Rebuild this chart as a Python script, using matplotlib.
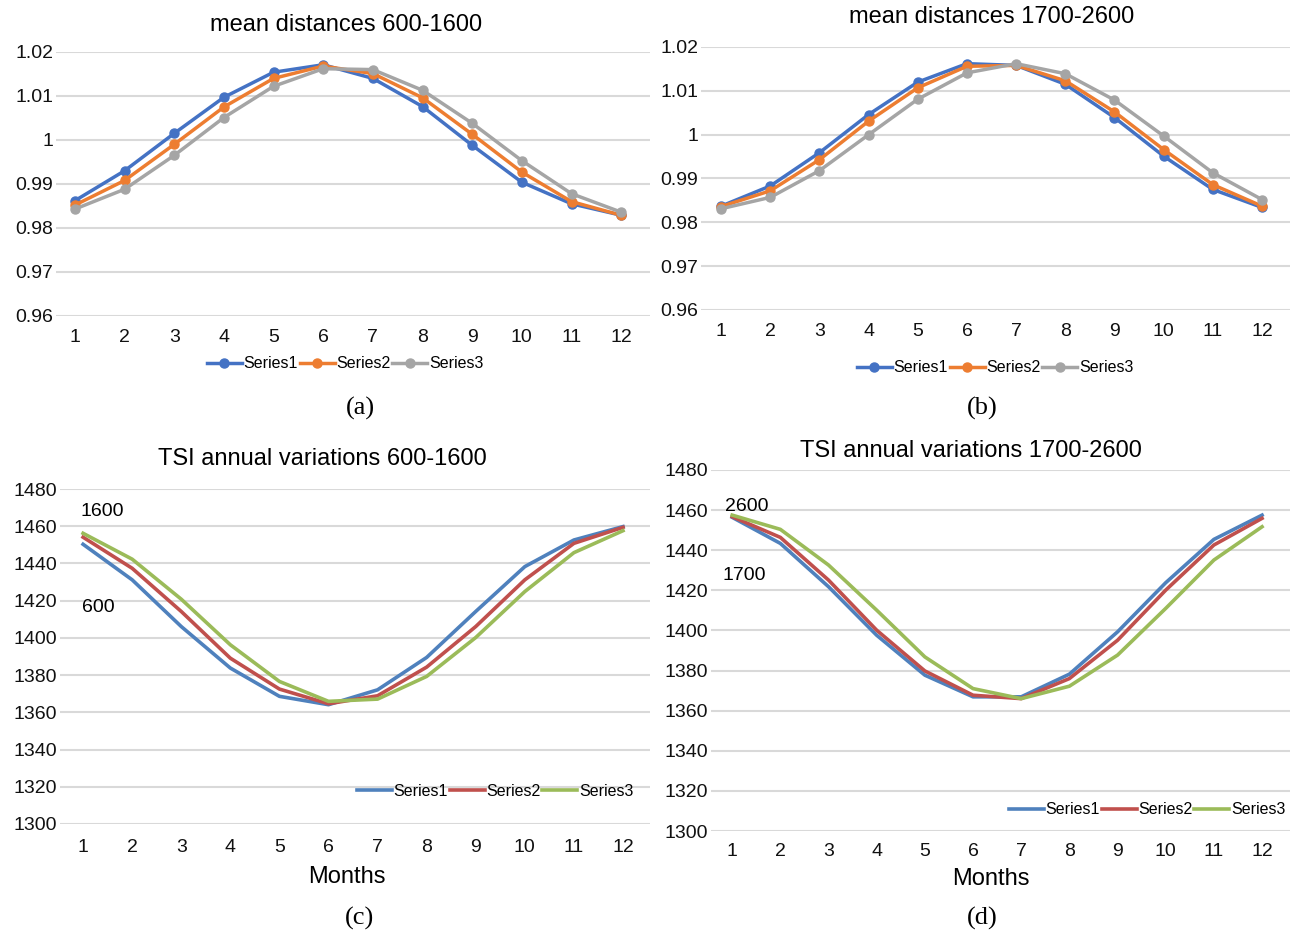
import numpy as np
import matplotlib.pyplot as plt

plt.rcParams['font.family'] = ['Liberation Sans', 'DejaVu Sans']

W, H = 1290, 932

months = list(range(1, 13))
series_names = ['Series1', 'Series2', 'Series3']

# mean distances 600-1600
dist_a_s1 = [0.9862, 0.9930, 1.0015, 1.0097, 1.0154, 1.0171, 1.0140, 1.0076, 0.9988, 0.9904, 0.9855, 0.9829]
dist_a_s2 = [0.9852, 0.9908, 0.9990, 1.0075, 1.0140, 1.0168, 1.0151, 1.0096, 1.0013, 0.9927, 0.9860, 0.9829]
dist_a_s3 = [0.9843, 0.9888, 0.9965, 1.0051, 1.0122, 1.0162, 1.0160, 1.0113, 1.0038, 0.9953, 0.9878, 0.9836]

# mean distances 1700-2600
dist_b_s1 = [0.9837, 0.9883, 0.9959, 1.0046, 1.0120, 1.0162, 1.0158, 1.0115, 1.0039, 0.9951, 0.9875, 0.9834]
dist_b_s2 = [0.9836, 0.9872, 0.9943, 1.0031, 1.0107, 1.0156, 1.0158, 1.0123, 1.0052, 0.9966, 0.9886, 0.9837]
dist_b_s3 = [0.9831, 0.9857, 0.9918, 1.0000, 1.0081, 1.0141, 1.0162, 1.0139, 1.0079, 0.9997, 0.9913, 0.9852]

# TSI 600-1600
tsi_c_s1 = [1450.3, 1431.2, 1406.1, 1383.8, 1368.6, 1364.1, 1372.1, 1389.5, 1414.2, 1438.3, 1452.6, 1459.8]
tsi_c_s2 = [1454.1, 1437.4, 1414.2, 1389.1, 1372.5, 1364.6, 1368.9, 1384.3, 1406.1, 1431.2, 1450.8, 1459.4]
tsi_c_s3 = [1456.2, 1442.3, 1420.8, 1396.3, 1376.6, 1365.9, 1367.1, 1379.3, 1400.2, 1424.9, 1445.8, 1457.6]

# TSI 1700-2600
tsi_d_s1 = [1456.4, 1443.4, 1421.8, 1397.6, 1377.7, 1366.9, 1366.9, 1378.2, 1399.3, 1423.8, 1445.4, 1457.5]
tsi_d_s2 = [1456.7, 1446.4, 1425.1, 1400.1, 1379.8, 1367.7, 1366.0, 1376.0, 1395.1, 1420.1, 1442.6, 1455.9]
tsi_d_s3 = [1457.5, 1450.4, 1432.6, 1410.1, 1386.8, 1371.0, 1366.0, 1372.2, 1387.7, 1411.0, 1435.1, 1451.7]

dist_colors = ['#4472C4', '#ED7D31', '#A5A5A5']
tsi_colors = ['#4F81BD', '#C0504D', '#9BBB59']


def px_axes(fig, x0, x1, y_top, y_bot):
    # pixel box -> figure fraction
    return fig.add_axes([x0 / W, 1 - y_bot / H, (x1 - x0) / W, (y_bot - y_top) / H])


def style(ax, xlim, ylim, yticks, xpad):
    ax.set_xlim(*xlim)
    ax.set_ylim(*ylim)
    ax.set_xticks(months)
    ax.set_yticks(yticks)
    ax.grid(axis='y', color='#D9D9D9', linewidth=1.5)
    ax.set_axisbelow(True)
    for s in ax.spines.values():
        s.set_visible(False)
    ax.tick_params(axis='both', length=0, labelsize=14, colors='#111111')
    ax.tick_params(axis='x', pad=xpad)
    ax.tick_params(axis='y', pad=2)


def fpos(x, y):
    return (x / W, 1 - y / H)


def legend(ax, x, y):
    ax.legend(loc='center', bbox_to_anchor=fpos(x, y), bbox_transform=fig.transFigure,
              ncol=3, frameon=False, fontsize=11.5, handlelength=2.2, handletextpad=0.1,
              columnspacing=0.1, borderpad=0)


fig = plt.figure(figsize=(W / 100, H / 100), dpi=100)

# (a)
ax = px_axes(fig, 56, 650, 52, 316)
for vals, c, n in zip([dist_a_s1, dist_a_s2, dist_a_s3], dist_colors, series_names):
    ax.plot(months, vals, color=c, lw=2.5, marker='o', ms=6.5, label=n)
style(ax, (0.62, 12.58), (0.96, 1.02), [0.96, 0.97, 0.98, 0.99, 1.0, 1.01, 1.02], 9)
ax.set_yticklabels(['0.96', '0.97', '0.98', '0.99', '1', '1.01', '1.02'])
fig.text(*fpos(346, 25), 'mean distances 600-1600', ha='center', va='center', fontsize=17)
legend(ax, 345, 364)

# (b)
ax = px_axes(fig, 701, 1290, 47, 310)
for vals, c, n in zip([dist_b_s1, dist_b_s2, dist_b_s3], dist_colors, series_names):
    ax.plot(months, vals, color=c, lw=2.5, marker='o', ms=6.5, label=n)
style(ax, (0.59, 12.57), (0.96, 1.02), [0.96, 0.97, 0.98, 0.99, 1.0, 1.01, 1.02], 9)
ax.set_yticklabels(['0.96', '0.97', '0.98', '0.99', '1', '1.01', '1.02'])
fig.text(*fpos(992, 17), 'mean distances 1700-2600', ha='center', va='center', fontsize=17)
legend(ax, 995, 368)

# (c)
ax = px_axes(fig, 60, 650, 489, 824)
for vals, c, n in zip([tsi_c_s1, tsi_c_s2, tsi_c_s3], tsi_colors, series_names):
    ax.plot(months, vals, color=c, lw=2.6, label=n)
style(ax, (0.53, 12.55), (1300, 1480), list(range(1300, 1481, 20)), 11)
ax.text(*fpos(80, 512), '1600', transform=fig.transFigure, ha='left', va='center', fontsize=14)
ax.text(*fpos(82, 608), '600', transform=fig.transFigure, ha='left', va='center', fontsize=14)
fig.text(*fpos(322, 459), 'TSI annual variations 600-1600', ha='center', va='center', fontsize=17)
fig.text(*fpos(347, 877), 'Months', ha='center', va='center', fontsize=17)
legend(ax, 495, 791)

# (d)
ax = px_axes(fig, 711, 1290, 470, 831)
for vals, c, n in zip([tsi_d_s1, tsi_d_s2, tsi_d_s3], tsi_colors, series_names):
    ax.plot(months, vals, color=c, lw=2.6, label=n)
style(ax, (0.56, 12.58), (1300, 1480), list(range(1300, 1481, 20)), 9)
ax.text(*fpos(725, 507), '2600', transform=fig.transFigure, ha='left', va='center', fontsize=14)
ax.text(*fpos(723, 575), '1700', transform=fig.transFigure, ha='left', va='center', fontsize=14)
fig.text(*fpos(971, 451), 'TSI annual variations 1700-2600', ha='center', va='center', fontsize=17)
fig.text(*fpos(991, 879), 'Months', ha='center', va='center', fontsize=17)
legend(ax, 1147, 810)

# captions
for lab, x, y in [('(a)', 360, 408), ('(b)', 982, 408), ('(c)', 360, 918), ('(d)', 982, 918)]:
    fig.text(*fpos(x, y), lab, ha='center', va='center', fontsize=19,
             family=['Liberation Serif', 'DejaVu Serif'])

fig.savefig('out.png', dpi=100)
